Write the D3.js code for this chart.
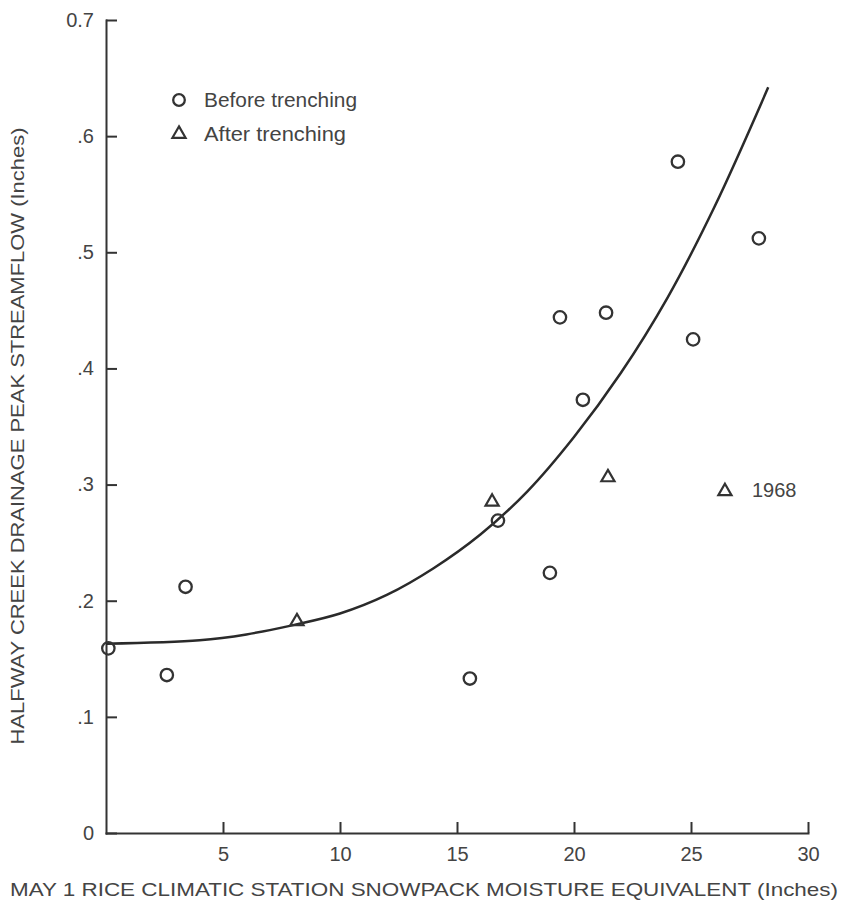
<!DOCTYPE html>
<html>
<head>
<meta charset="utf-8">
<script src="https://cdn.jsdelivr.net/npm/d3@7"></script>
<style>
  body { margin: 0; background: #fff; }
  svg { font-family: "Liberation Sans", Arial, sans-serif; }
  .axis path, .axis line { stroke: #333; stroke-width: 2; }
  .axis text { fill: #444; }
</style>
</head>
<body>
<script>
// values
var xTicks = [5, 10, 15, 20, 25, 30];
var yTicks = [0, 0.1, 0.2, 0.3, 0.4, 0.5, 0.6, 0.7];

// before trenching (circles)
var beforeX = [0.1, 2.6, 3.4, 15.55, 16.75, 18.97, 19.4, 20.38, 21.37, 24.44, 25.09, 27.9];
var beforeY = [0.159, 0.136, 0.212, 0.133, 0.269, 0.224, 0.444, 0.373, 0.448, 0.578, 0.425, 0.512];

// after trenching (triangles)
var afterX = [8.16, 16.5, 21.45, 26.45];
var afterY = [0.183, 0.286, 0.307, 0.295];
var afterLabel = ["", "", "", "1968"];

// fitted curve
var curveX = [0, 4, 6, 8, 10, 12, 14, 16, 18, 20, 22, 24, 26, 28.3];
var curveY = [0.163, 0.166, 0.171, 0.179, 0.189, 0.205, 0.228, 0.257, 0.294, 0.341, 0.396, 0.461, 0.539, 0.642];

window.onload = function() {
  var width = 846, height = 914;

  var svg = d3.select("body").append("svg")
              .attr("width", width)
              .attr("height", height);

  var xScale = d3.scaleLinear().domain([0, 30]).range([106, 808]);
  var yScale = d3.scaleLinear().domain([0, 0.7]).range([833, 20]);

  // y axis, ticks pointing inward
  svg.append("g")
     .attr("class", "axis")
     .attr("transform", "translate(" + xScale(0) + ",0)")
     .call(d3.axisLeft(yScale)
             .tickValues(yTicks)
             .tickSizeInner(-11)
             .tickSizeOuter(0)
             .tickPadding(12)
             .tickFormat(function(d) {
               if (d == 0) return "0";
               if (d == 0.7) return "0.7";
               return d3.format(".1f")(d).replace(/^0/, "");
             }))
     .attr("font-size", 20)
     .attr("font-family", null);

  // x axis
  svg.append("g")
     .attr("class", "axis")
     .attr("transform", "translate(0," + yScale(0) + ")")
     .call(d3.axisBottom(xScale)
             .tickValues(xTicks)
             .tickSizeInner(-11)
             .tickSizeOuter(0)
             .tickPadding(14))
     .attr("font-size", 20)
     .attr("font-family", null);

  svg.selectAll(".axis .domain").attr("stroke-linecap", "square");

  // curve
  var line = d3.line()
               .x(function(d) { return xScale(d[0]); })
               .y(function(d) { return yScale(d[1]); })
               .curve(d3.curveCatmullRom.alpha(0.5));

  svg.append("path")
     .datum(d3.zip(curveX, curveY))
     .attr("d", line)
     .attr("fill", "none")
     .attr("stroke", "#2a2a2a")
     .attr("stroke-width", 2.5);

  var tri = d3.symbol().type(d3.symbolTriangle).size(75);

  // before trenching
  svg.selectAll(".before")
     .data(d3.zip(beforeX, beforeY))
     .enter()
     .append("circle")
     .attr("class", "before")
     .attr("cx", function(d) { return xScale(d[0]); })
     .attr("cy", function(d) { return yScale(d[1]); })
     .attr("r", 6.2)
     .attr("fill", "none")
     .attr("stroke", "#333")
     .attr("stroke-width", 2.3);

  // after trenching
  svg.selectAll(".after")
     .data(d3.zip(afterX, afterY, afterLabel))
     .enter()
     .append("path")
     .attr("class", "after")
     .attr("d", tri)
     .attr("transform", function(d) { return "translate(" + xScale(d[0]) + "," + (yScale(d[1]) + 1) + ")"; })
     .attr("fill", "none")
     .attr("stroke", "#333")
     .attr("stroke-width", 2.2);

  svg.selectAll(".afterlabel")
     .data(d3.zip(afterX, afterY, afterLabel))
     .enter()
     .append("text")
     .attr("x", function(d) { return xScale(d[0]) + 27; })
     .attr("y", function(d) { return yScale(d[1]); })
     .attr("dy", "0.35em")
     .style("font-size", "20px")
     .style("fill", "#444")
     .text(function(d) { return d[2]; });

  // legend
  svg.append("circle").attr("cx", 179).attr("cy", 100).attr("r", 5.8)
     .attr("fill", "none").attr("stroke", "#333").attr("stroke-width", 2.3);
  svg.append("path").attr("d", tri).attr("transform", "translate(179,134)")
     .attr("fill", "none").attr("stroke", "#333").attr("stroke-width", 2.2);
  svg.append("text").attr("x", 204).attr("y", 100).attr("dy", "0.35em")
     .attr("textLength", 153).attr("lengthAdjust", "spacingAndGlyphs")
     .style("font-size", "20px").style("fill", "#444").text("Before trenching");
  svg.append("text").attr("x", 204).attr("y", 134).attr("dy", "0.35em")
     .attr("textLength", 142).attr("lengthAdjust", "spacingAndGlyphs")
     .style("font-size", "20px").style("fill", "#444").text("After trenching");

  // axis titles
  svg.append("text")
     .attr("x", 424).attr("y", 896)
     .attr("text-anchor", "middle")
     .attr("textLength", 828)
     .attr("lengthAdjust", "spacingAndGlyphs")
     .style("font-size", "19px")
     .style("fill", "#444")
     .text("MAY 1 RICE CLIMATIC STATION SNOWPACK MOISTURE EQUIVALENT (Inches)");

  svg.append("text")
     .attr("transform", "translate(24,436)rotate(-90)")
     .attr("text-anchor", "middle")
     .attr("textLength", 617)
     .attr("lengthAdjust", "spacingAndGlyphs")
     .style("font-size", "18px")
     .style("fill", "#444")
     .text("HALFWAY CREEK DRAINAGE PEAK STREAMFLOW (Inches)");
};
</script>
</body>
</html>
